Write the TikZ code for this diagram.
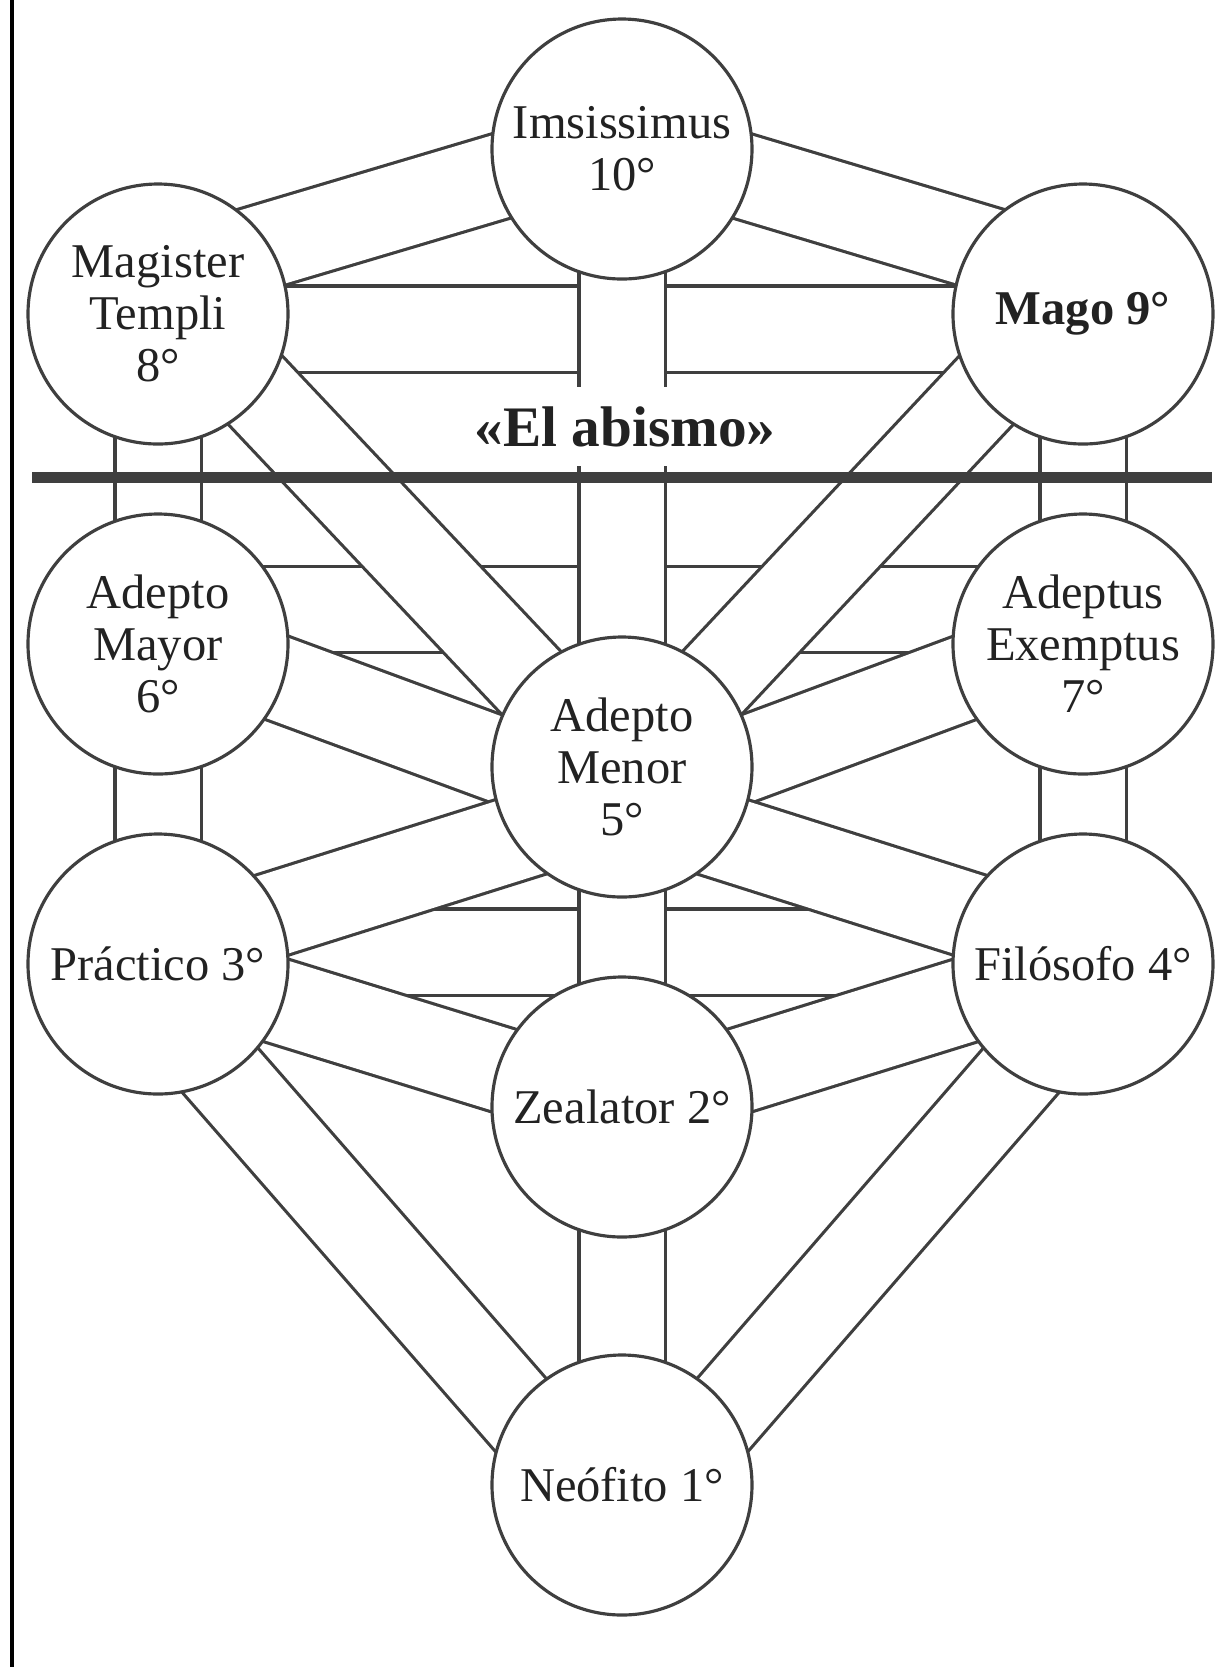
\documentclass[tikz,border=0pt]{standalone}
\usepackage{fontspec}
\setmainfont{Liberation Serif}
\usetikzlibrary{backgrounds}
\definecolor{trazo}{HTML}{3F3F3F}
\definecolor{letra}{HTML}{222222}
\tikzset{sefira/.style={circle,draw=trazo,fill=white,line width=0.9pt,
    minimum size=2.6cm,inner sep=0pt,align=center,text=letra,
    font=\fontsize{13.8}{14.8}\selectfont},
  senda/.style={draw=trazo,line width=0.9pt,double=white,double distance=0.83cm}}

\begin{document}
\begin{tikzpicture}
  \useasboundingbox (0,0) rectangle (12.31,-16.67);
  \draw [line width=1.2pt] (0.12,0) -- (0.12,-16.67);

  \node [sefira] (imp) at (6.22,-1.49) {Imsissimus\\10°};
  \node [sefira] (mt) at (1.58,-3.14) {Magister\\Templi\\8°};
  \node [sefira] (mg) at (10.83,-3.14) {\textbf{Mago 9°}};
  \node [sefira] (amy) at (1.58,-6.44) {Adepto\\Mayor\\6°};
  \node [sefira] (ae) at (10.83,-6.44) {Adeptus\\Exemptus\\7°};
  \node [sefira] (amn) at (6.22,-7.67) {Adepto\\Menor\\5°};
  \node [sefira] (pr) at (1.58,-9.64) {Práctico 3°};
  \node [sefira] (fi) at (10.83,-9.64) {Filósofo 4°};
  \node [sefira] (ze) at (6.22,-11.07) {Zealator 2°};
  \node [sefira] (ne) at (6.22,-14.85) {Neófito 1°};

  \begin{scope}[on background layer]
    % horizontal paths
    \draw [senda] ([yshift=-0.15cm]mt.center) -- ([yshift=-0.15cm]mg.center);
    \draw [senda] ([yshift=0.345cm]amy.center) -- ([yshift=0.345cm]ae.center);
    \draw [senda] ([yshift=0.12cm]pr.center) -- ([yshift=0.12cm]fi.center);
    % vertical paths
    \draw [senda] (imp.center) -- (amn.center);
    \draw [senda] (amn.center) -- (ze.center);
    \draw [senda] (ze.center) -- (ne.center);
    \draw [senda] (mt.center) -- (amy.center);
    \draw [senda] (amy.center) -- (pr.center);
    \draw [senda] (mg.center) -- (ae.center);
    \draw [senda] (ae.center) -- (fi.center);
    % diagonal paths
    \draw [senda] ([yshift=0.09cm]imp.center) -- ([yshift=0.36cm]mt.center);
    \draw [senda] ([yshift=0.09cm]imp.center) -- ([yshift=0.36cm]mg.center);
    \draw [senda] ([yshift=0.10cm]amy.center) -- ([yshift=-0.38cm]amn.center);
    \draw [senda] ([yshift=0.10cm]ae.center) -- ([yshift=-0.38cm]amn.center);
    \draw [senda] ([yshift=0.27cm]mt.center) -- ([yshift=-0.12cm]amn.center);
    \draw [senda] ([yshift=0.27cm]mg.center) -- ([yshift=-0.12cm]amn.center);
    \draw [senda] ([yshift=0.13cm]pr.center) -- ([yshift=-0.38cm]amn.center);
    \draw [senda] ([yshift=0.13cm]fi.center) -- ([yshift=-0.38cm]amn.center);
    \draw [senda] (pr.center) -- (ze.center);
    \draw [senda] (fi.center) -- (ze.center);
    \draw [senda] ([yshift=-0.35cm]pr.center) -- ([yshift=-0.46cm]ne.center);
    \draw [senda] ([yshift=-0.35cm]fi.center) -- ([yshift=-0.46cm]ne.center);
  \end{scope}

  \node [fill=white,inner sep=0pt,minimum height=0.79cm,minimum width=3.1cm,
    text=letra,font=\bfseries\fontsize{16.3}{18}\selectfont] (abismo) at (6.25,-4.265) {«El abismo»};
  \draw [trazo,line width=3.1pt] (0.32,-4.775) -- (12.12,-4.775);
\end{tikzpicture}
\end{document}
